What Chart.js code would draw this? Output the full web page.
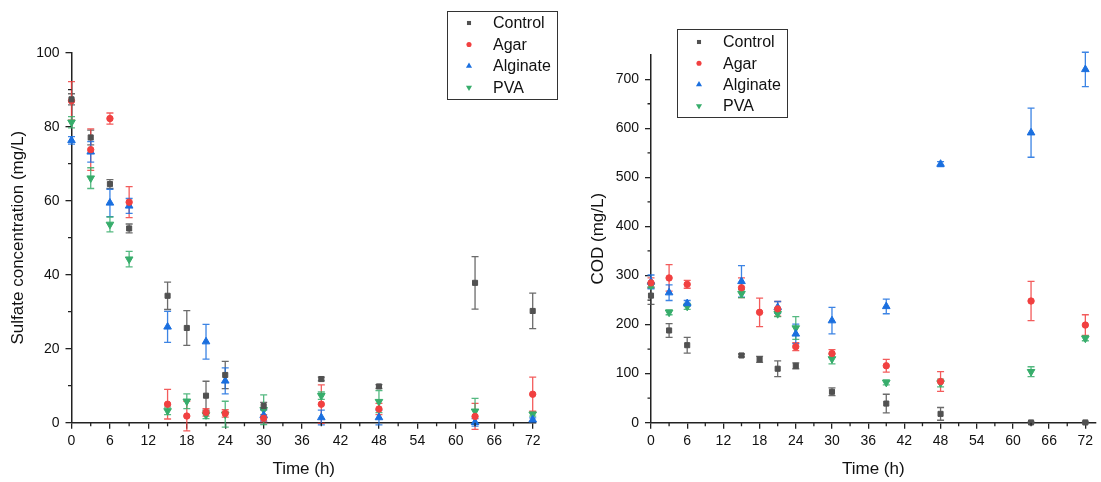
<!DOCTYPE html>
<html>
<head>
<meta charset="utf-8">
<script src="https://cdn.jsdelivr.net/npm/chart.js@4.4.1/dist/chart.umd.min.js"></script>
<style>
  html, body { margin: 0; padding: 0; background: #fff; }
  #wrap { position: relative; width: 1101px; height: 482px; overflow: hidden; }
  canvas { position: absolute; top: 0; }
  #sulfate { left: 0; }
  #cod { left: 560px; }
</style>
</head>
<body>
<div id="wrap">
  <canvas id="sulfate" width="560" height="482"></canvas>
  <canvas id="cod" width="541" height="482"></canvas>
</div>
<script>
// ---- data ----
const seriesNames = ["Control", "Agar", "Alginate", "PVA"];

const sulfateTime = [0, 3, 6, 9, 15, 18, 21, 24, 30, 39, 48, 63, 72];
const sulfateControl    = [87.4, 77.1, 64.5, 52.5, 34.3, 25.6, 7.3, 12.9, 4.5, 11.8, 9.8, 37.8, 30.2];
const sulfateControlErr = [1.5, 2.0, 1.2, 1.2, 3.7, 4.7, 3.9, 3.7, 1.0, 0.5, 0.5, 7.1, 4.8];
const sulfateAgar       = [87.0, 73.8, 82.2, 59.6, 5.0, 1.8, 2.8, 2.5, 1.2, 5.0, 3.7, 1.7, 7.7];
const sulfateAgarErr    = [5.2, 5.6, 1.5, 4.2, 4.0, 4.0, 1.0, 1.0, 1.0, 5.2, 1.5, 3.5, 4.6];
const sulfateAlginate   = [76.3, 73.2, 59.4, 58.6, 25.9, null, 21.9, 11.3, 2.0, 1.4, 1.4, 0.1, 0.8];
const sulfateAlginateErr = [1.0, 2.8, 3.7, 2.0, 4.2, null, 4.7, 3.5, 1.5, 2.0, 2.0, 1.0, 0.5];
const sulfatePVA        = [81.2, 66.1, 53.6, 44.2, 3.2, 5.8, 2.1, 2.3, 3.5, 7.3, 5.7, 3.1, 2.3];
const sulfatePVAErr     = [1.5, 2.8, 2.0, 2.1, 1.0, 2.0, 1.0, 3.5, 4.0, 1.0, 3.0, 3.5, 0.5];

const codTime = [0, 3, 6, 15, 18, 21, 24, 30, 39, 48, 63, 72];
const codControl     = [259, 188, 158, 137, 129, 110, 116, 63, 39, 18, 0.5, 0.5];
const codControlErr  = [18, 14, 16, 3, 6, 16, 6, 8, 19, 13, 1, 1];
const codAgar        = [285, 295, 282, 275, 225, 232, 155, 141, 116, 84, 248, 199];
const codAgarErr     = [10, 27, 8, 20, 29, 15, 8, 8, 13, 20, 40, 21];
const codAlginate    = [287, 265, 243, 288, null, 235, 181, 208, 237, 527, 591, 720];
const codAlginateErr = [14, 16, 6, 32, null, 12, 20, 27, 15, 5, 50, 35];
const codPVA         = [280, 225, 237, 263, null, 222, 193, 130, 82, 81, 104, 172];
const codPVAErr      = [5, 5, 6, 8, null, 6, 23, 10, 5, 8, 10, 5];

const timeTicks = [0, 6, 12, 18, 24, 30, 36, 42, 48, 54, 60, 66, 72];
const timeMinor = [3, 9, 15, 21, 27, 33, 39, 45, 51, 57, 63, 69];
const sulfateTicks = [0, 20, 40, 60, 80, 100];
const sulfateMinor = [10, 30, 50, 70, 90];
const codTicks = [0, 100, 200, 300, 400, 500, 600, 700];
const codMinor = [50, 150, 250, 350, 450, 550, 650];

// ---- styles ----
const colors = ["#515151", "#F14040", "#1A6FDF", "#37AD6B"];
const markers = [
  { style: "rect", rot: 0, r: 3.6 },
  { style: "circle", rot: 0, r: 3.2 },
  { style: "triangle", rot: 0, r: 4.4 },
  { style: "triangle", rot: 180, r: 4.4 }
];
const FONT = '"Liberation Sans", Arial, sans-serif';

function makeDatasets(times, values, errors) {
  return values.map((vals, i) => ({
    label: seriesNames[i],
    data: times.map((t, j) => ({ x: t, y: vals[j] })),
    errors: errors[i],
    backgroundColor: colors[i],
    borderColor: colors[i],
    borderWidth: 1,
    pointStyle: markers[i].style,
    pointRotation: markers[i].rot,
    pointRadius: markers[i].r,
    pointHoverRadius: markers[i].r,
    showLine: false,
    clip: false
  }));
}

const errorBars = {
  id: "errorBars",
  beforeDatasetsDraw(chart) {
    const ctx = chart.ctx;
    const yScale = chart.scales.y;
    chart.data.datasets.forEach((ds, i) => {
      const meta = chart.getDatasetMeta(i);
      ctx.save();
      ctx.strokeStyle = ds.borderColor;
      ctx.lineWidth = 1.3;
      ctx.globalAlpha = 0.85;
      meta.data.forEach((pt, j) => {
        const v = ds.data[j].y;
        const e = ds.errors[j];
        if (v == null || e == null) return;
        const top = yScale.getPixelForValue(v + e);
        const bot = yScale.getPixelForValue(v - e);
        ctx.beginPath();
        ctx.moveTo(pt.x, top); ctx.lineTo(pt.x, bot);
        ctx.moveTo(pt.x - 3.5, top); ctx.lineTo(pt.x + 3.5, top);
        ctx.moveTo(pt.x - 3.5, bot); ctx.lineTo(pt.x + 3.5, bot);
        ctx.stroke();
      });
      ctx.restore();
    });
  }
};

const extras = {
  id: "extras",
  afterDraw(chart, args, opts) {
    const ctx = chart.ctx;
    const xs = chart.scales.x, ys = chart.scales.y;
    ctx.save();
    ctx.strokeStyle = "#222";
    ctx.lineWidth = 1.3;
    ctx.beginPath();
    opts.minorX.forEach(v => {
      const px = xs.getPixelForValue(v);
      ctx.moveTo(px, ys.bottom); ctx.lineTo(px, ys.bottom + 3.5);
    });
    opts.minorY.forEach(v => {
      const py = ys.getPixelForValue(v);
      ctx.moveTo(xs.left, py); ctx.lineTo(xs.left - 3.5, py);
    });
    ctx.stroke();

    // boxed legend
    const L = opts.legend;
    ctx.lineWidth = 1;
    ctx.strokeStyle = "#333";
    ctx.strokeRect(L.x + 0.5, L.y + 0.5, L.w, L.h);
    ctx.font = "16px " + FONT;
    ctx.textBaseline = "middle";
    chart.data.datasets.forEach((ds, i) => {
      const cy = L.y + L.first + i * L.step;
      ctx.fillStyle = ds.backgroundColor;
      Chart.helpers.drawPoint(ctx, {
        pointStyle: ds.pointStyle,
        rotation: ds.pointRotation,
        radius: ds.pointRadius * 0.8,
        borderWidth: 0
      }, L.markerX, cy);
      ctx.fillStyle = "#111";
      ctx.fillText(ds.label, L.textX, cy + 1);
    });
    ctx.restore();
  }
};

function axisX(max, height) {
  return {
    type: "linear", min: 0, max: max,
    afterBuildTicks: s => { s.ticks = timeTicks.map(v => ({ value: v })); },
    afterFit: s => { s.height = height; },
    ticks: { font: { size: 14, family: FONT }, color: "#111", padding: 4, maxRotation: 0, autoSkip: false },
    grid: { drawOnChartArea: false, tickLength: 6, color: "#222", lineWidth: 1.3 },
    border: { color: "#222", width: 1.5 },
    title: { display: true, text: "Time (h)", font: { size: 17, family: FONT }, color: "#111", padding: { top: 0, bottom: 2 } }
  };
}

function axisY(max, ticks, width, label, titlePad) {
  return {
    type: "linear", min: 0, max: max,
    afterBuildTicks: s => { s.ticks = ticks.map(v => ({ value: v })); },
    afterFit: s => { s.width = width; },
    ticks: { font: { size: 14, family: FONT }, color: "#111", padding: 6 },
    grid: { drawOnChartArea: false, tickLength: 6, color: "#222", lineWidth: 1.3 },
    border: { color: "#222", width: 1.5 },
    title: { display: true, text: label, font: { size: 17, family: FONT }, color: "#111", padding: { top: titlePad, bottom: 0 } }
  };
}

new Chart(document.getElementById("sulfate"), {
  type: "scatter",
  data: {
    datasets: makeDatasets(sulfateTime,
      [sulfateControl, sulfateAgar, sulfateAlginate, sulfatePVA],
      [sulfateControlErr, sulfateAgarErr, sulfateAlginateErr, sulfatePVAErr])
  },
  options: {
    responsive: false,
    animation: false,
    layout: { padding: { left: 0, right: 24.1, top: 52.7, bottom: 0 } },
    scales: {
      x: axisX(72.5, 59.3),
      y: axisY(100, sulfateTicks, 71.5, "Sulfate concentration (mg/L)", 8)
    },
    plugins: {
      legend: { display: false },
      tooltip: { enabled: false },
      extras: {
        minorX: timeMinor, minorY: sulfateMinor,
        legend: { x: 447, y: 11, w: 110, h: 88, first: 12, step: 21.5, markerX: 469, textX: 493 }
      }
    }
  },
  plugins: [errorBars, extras]
});

new Chart(document.getElementById("cod"), {
  type: "scatter",
  data: {
    datasets: makeDatasets(codTime,
      [codControl, codAgar, codAlginate, codPVA],
      [codControlErr, codAgarErr, codAlginateErr, codPVAErr])
  },
  options: {
    responsive: false,
    animation: false,
    layout: { padding: { left: 0, right: 0, top: 54.7, bottom: 0 } },
    scales: {
      x: axisX(73.7, 59.3),
      y: axisY(750, codTicks, 91, "COD (mg/L)", 28)
    },
    plugins: {
      legend: { display: false },
      tooltip: { enabled: false },
      extras: {
        minorX: timeMinor, minorY: codMinor,
        legend: { x: 117, y: 29, w: 110, h: 88, first: 13, step: 21.3, markerX: 139, textX: 163 }
      }
    }
  },
  plugins: [errorBars, extras]
});
</script>
</body>
</html>
